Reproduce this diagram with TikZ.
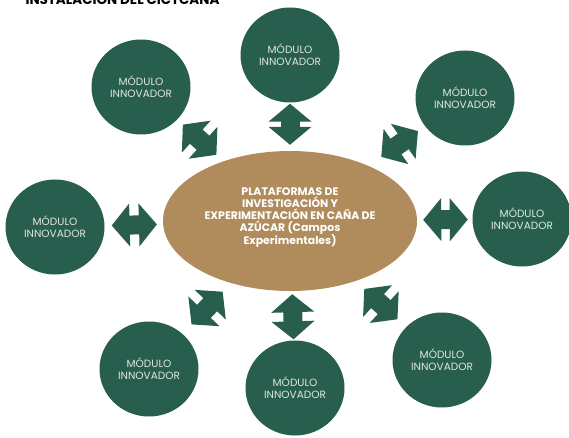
\documentclass[tikz,border=0pt]{standalone}
\usepackage{fontspec}
\setmainfont{Poppins}
\usetikzlibrary{arrows.meta,shapes.geometric}
\definecolor{modgreen}{HTML}{285E4D}
\definecolor{cane}{HTML}{B08C5C}

\begin{document}
\begin{tikzpicture}[
  x=1pt,y=-1pt,
  modulo/.style={ellipse,fill=modgreen,minimum width=99pt,minimum height=95pt,
    inner sep=0pt,align=center,text=white!85!modgreen,
    font=\fontsize{10.5}{12}\selectfont},
  hub/.style={ellipse,fill=cane,minimum width=254pt,minimum height=140pt,
    inner sep=0pt},
  link/.style={draw=modgreen,line width=19pt,
    {Triangle[length=18pt,width=42pt]}-{Triangle[length=18pt,width=42pt]}}
]
  \useasboundingbox (0,0) rectangle (569,438);
  \node[anchor=base west,font=\bfseries\fontsize{13.5}{15}\selectfont] (title)
    at (22,5) {INSTALACIÓN DEL CICTCAÑA};

  % central platform
  \node[hub] (plat) at (290,221) {};
  \node[font=\bfseries\fontsize{10.9}{11.7}\selectfont,text=white,align=center]
    (plattext) at (290,218)
    {PLATAFORMAS DE\\INVESTIGACIÓN Y\\EXPERIMENTACIÓN EN CAÑA DE\\
    AZÚCAR (Campos\\Experimentales)};

  % modules around it
  \node[modulo] (mtop) at (290,55) {MÓDULO\\INNOVADOR};
  \node[modulo] (mtl) at (141,87) {MÓDULO\\INNOVADOR};
  \node[modulo] (mtr) at (465,98) {MÓDULO\\INNOVADOR};
  \node[modulo] (mleft) at (55,227) {MÓDULO\\INNOVADOR};
  \node[modulo] (mright) at (522,219) {MÓDULO\\INNOVADOR};
  \node[modulo] (mbl) at (149,369) {MÓDULO\\INNOVADOR};
  \node[modulo] (mbot) at (295,388) {MÓDULO\\INNOVADOR};
  \node[modulo] (mbr) at (442,360) {MÓDULO\\INNOVADOR};

  \draw[link,shorten <=1pt,shorten >=6pt] (mtop) -- (plat);
  \draw[link,shorten <=7.5pt,shorten >=9.5pt] (mtl) -- (plat);
  \draw[link,shorten <=8.5pt,shorten >=15.5pt] (mtr) -- (plat);
  \draw[link,shorten <=7pt,shorten >=6pt] (mleft) -- (plat);
  \draw[link,shorten <=4.5pt,shorten >=6pt] (mright) -- (plat);
  \draw[link,shorten <=13pt,shorten >=11.8pt] (mbl) -- (plat);
  \draw[link,shorten <=1pt,shorten >=3pt] (mbot) -- (plat);
  \draw[link,shorten <=11.6pt,shorten >=11.6pt] (mbr) -- (plat);
\end{tikzpicture}
\end{document}
